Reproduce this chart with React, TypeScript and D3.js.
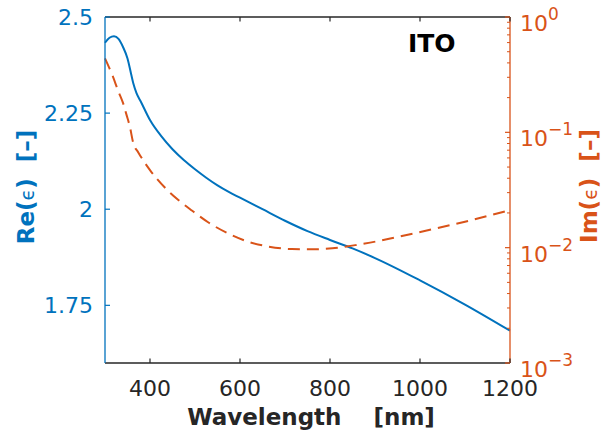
import React from 'react';
import * as d3 from 'd3';

const reWavelengths = [300, 310, 320, 330, 340, 350, 358, 363, 370, 380, 400, 425, 450, 475, 500, 525, 550, 575, 600, 650, 700, 750, 800, 850, 900, 1000, 1100, 1200];
const reValues = [2.433, 2.446, 2.450, 2.443, 2.422, 2.392, 2.352, 2.327, 2.302, 2.279, 2.232, 2.190, 2.156, 2.128, 2.104, 2.082, 2.062, 2.045, 2.030, 2.000, 1.970, 1.943, 1.920, 1.898, 1.873, 1.815, 1.752, 1.684];
const imWavelengths = [300, 317, 330, 340, 348, 355, 363, 374, 400, 433, 463, 493, 530, 574, 619, 663, 715, 760, 805, 856, 889, 950, 1037, 1100, 1200];
const imValues = [0.438, 0.308, 0.225, 0.18, 0.141, 0.113, 0.0803, 0.067, 0.0471, 0.0332, 0.0259, 0.0210, 0.01652, 0.01327, 0.01124, 0.01023, 0.00973, 0.00968, 0.00987, 0.01052, 0.01106, 0.0124, 0.01472, 0.0168, 0.0212];
const xTicks = [400, 600, 800, 1000, 1200];
const leftTicks = [1.75, 2, 2.25, 2.5];
const leftTickLabels = ['1.75', '2', '2.25', '2.5'];
const rightTickExps = [0, -1, -2, -3];
const title = 'ITO';

const BLUE = '#0072BD';
const ORANGE = '#D95319';
const DARK = '#262626';
const FONT = '"DejaVu Sans", sans-serif';

export default function App() {
  const L = 105, R = 510, T = 17, B = 363;
  const x = d3.scaleLinear().domain([300, 1200]).range([L, R]);
  const yL = d3.scaleLinear().domain([1.6, 2.5]).range([B, T]);
  const yR = d3.scaleLog().domain([1e-3, 1]).range([B, T]);

  const reLine = d3.line<number>()
    .x((_, i) => x(reWavelengths[i]))
    .y((d) => yL(d))
    .curve(d3.curveMonotoneX)(reValues) as string;
  const imLine = d3.line<number>()
    .x((_, i) => x(imWavelengths[i]))
    .y((d) => yR(d))
    .curve(d3.curveMonotoneX)(imValues) as string;

  const minorTicks: number[] = [];
  for (let e = -3; e < 0; e++) {
    for (let m = 2; m <= 9; m++) minorTicks.push(m * Math.pow(10, e));
  }

  return (
    <svg width={604} height={434} style={{ position: 'absolute', left: 0, top: 0, background: '#fff' }} fontFamily={FONT}>
      <rect x={0} y={0} width={604} height={434} fill="#fff" />
      {/* data */}
      <path d={reLine} fill="none" stroke={BLUE} strokeWidth={2} />
      <path d={imLine} fill="none" stroke={ORANGE} strokeWidth={2} strokeDasharray="12,7" />

      {/* box */}
      <line x1={L} x2={R} y1={T} y2={T} stroke={DARK} strokeWidth={1.3} />
      <line x1={L} x2={R} y1={B} y2={B} stroke={DARK} strokeWidth={1.3} />
      <line x1={L} x2={L} y1={T} y2={B} stroke={BLUE} strokeWidth={1.3} />
      <line x1={R} x2={R} y1={T} y2={B} stroke={ORANGE} strokeWidth={1.3} />

      {/* x ticks */}
      {xTicks.map((t) => (
        <g key={'x' + t}>
          <line x1={x(t)} x2={x(t)} y1={B} y2={B - 4.5} stroke={DARK} strokeWidth={1.2} />
          <line x1={x(t)} x2={x(t)} y1={T} y2={T + 4.5} stroke={DARK} strokeWidth={1.2} />
          <text x={x(t)} y={396} textAnchor="middle" fontSize={22} fill={DARK}>{t}</text>
        </g>
      ))}

      {/* left ticks */}
      {leftTicks.map((t, i) => (
        <g key={'l' + t}>
          <line x1={L} x2={L + 5} y1={yL(t)} y2={yL(t)} stroke={BLUE} strokeWidth={1.2} />
          <text x={93} y={yL(t) + 8} textAnchor="end" fontSize={22} fill={BLUE}>{leftTickLabels[i]}</text>
        </g>
      ))}

      {/* right ticks */}
      {rightTickExps.map((e) => {
        const v = Math.pow(10, e);
        return (
          <g key={'r' + e}>
            <line x1={R} x2={R - 5} y1={yR(v)} y2={yR(v)} stroke={ORANGE} strokeWidth={1.2} />
            <text x={520} y={yR(v) + 14} fontSize={22} fill={ORANGE}>
              <tspan>10</tspan>
              <tspan dy={-11} fontSize={17}>{e === 0 ? '0' : '\u2212' + Math.abs(e)}</tspan>
            </text>
          </g>
        );
      })}
      {minorTicks.map((v) => (
        <line key={'m' + v} x1={R} x2={R - 3} y1={yR(v)} y2={yR(v)} stroke={ORANGE} strokeWidth={1} />
      ))}

      {/* title */}
      <text x={408} y={52} fontSize={25} fontWeight="bold" fill="#000">{title}</text>

      {/* axis labels */}
      <text x={311} y={425} textAnchor="middle" fontSize={23} fontWeight="bold" fill={DARK} style={{ whiteSpace: 'pre' }}>
        {'Wavelength    [nm]'}
      </text>
      <text transform={`translate(34,${(T + B) / 2 - 3}) rotate(-90)`} textAnchor="middle" fontSize={23} fontWeight="bold" fill={BLUE} style={{ whiteSpace: 'pre' }}>
        <tspan>Re(</tspan><tspan fontWeight="normal" fontSize={19}>{'\u03F5'}</tspan><tspan>{')  [\u2013]'}</tspan>
      </text>
      <text transform={`translate(597,${(T + B) / 2 - 4}) rotate(-90)`} textAnchor="middle" fontSize={23} fontWeight="bold" fill={ORANGE} style={{ whiteSpace: 'pre' }}>
        <tspan>Im(</tspan><tspan fontWeight="normal" fontSize={19}>{'\u03F5'}</tspan><tspan>{')  [\u2013]'}</tspan>
      </text>
    </svg>
  );
}
